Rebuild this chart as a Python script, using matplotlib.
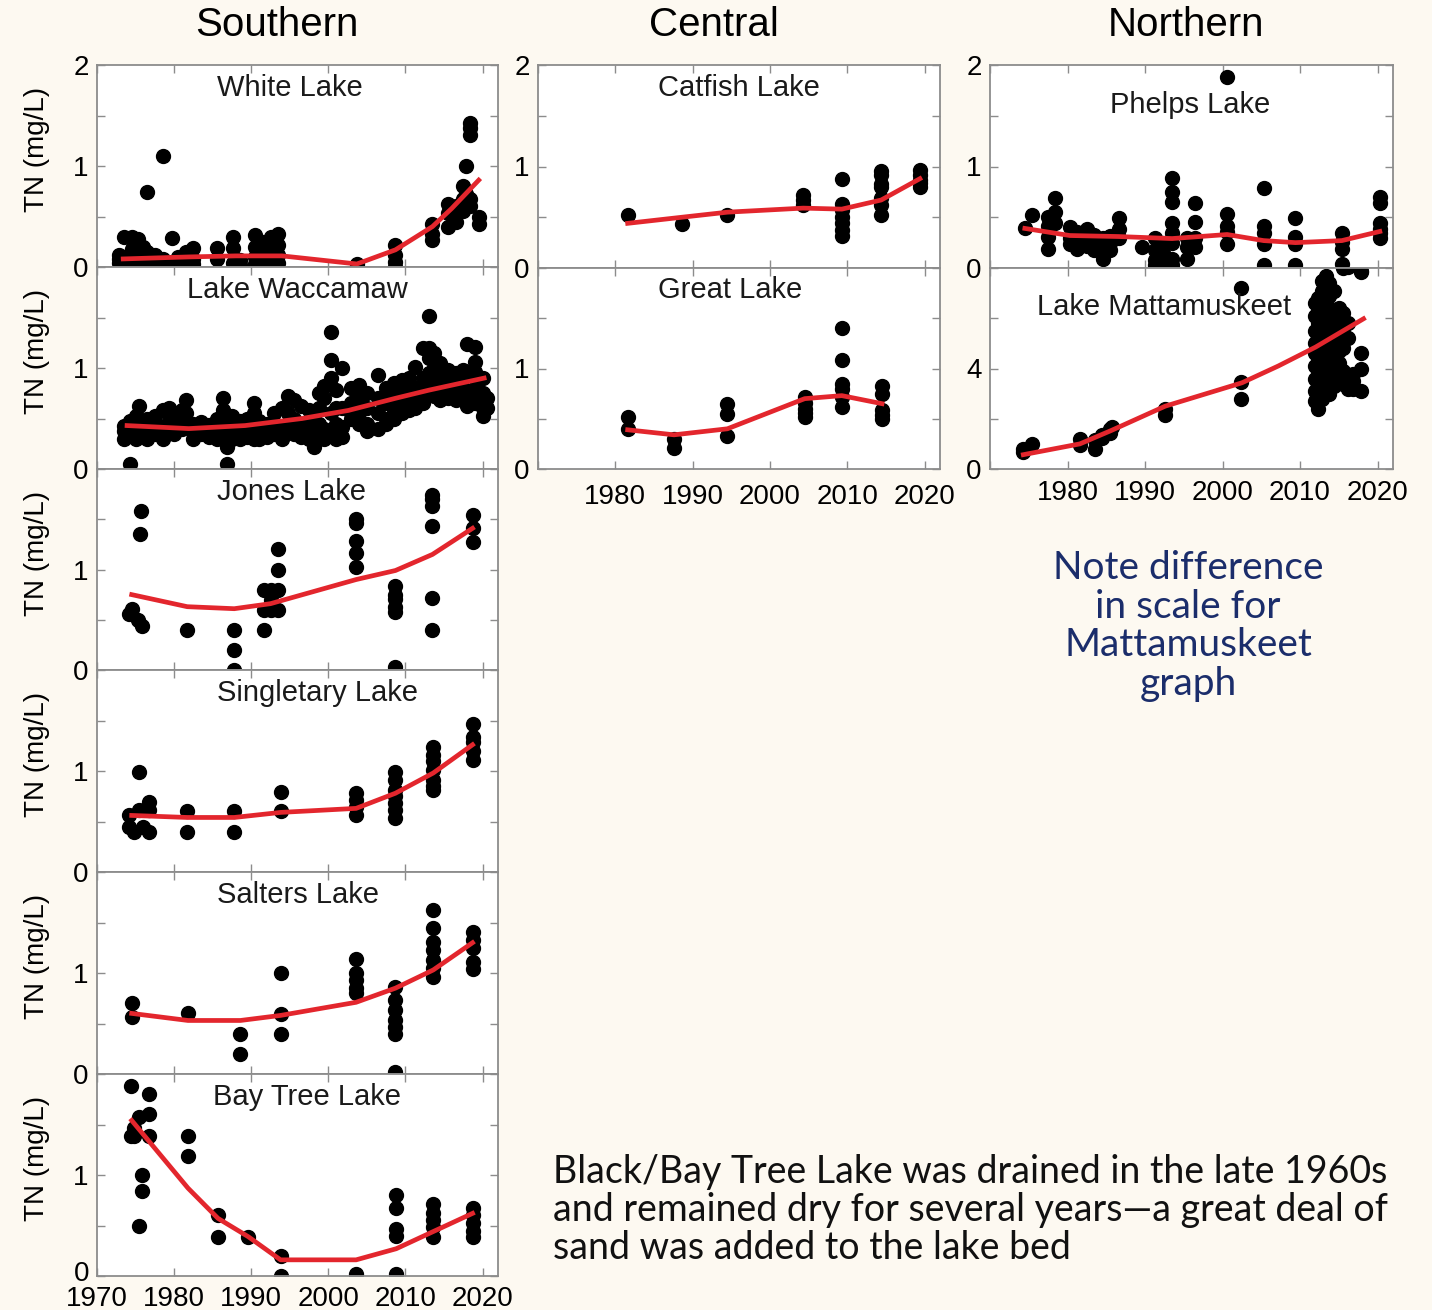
import matplotlib

matplotlib.use('Agg')
import matplotlib.pyplot as plt
from matplotlib.ticker import MultipleLocator, FuncFormatter

W, H = 1432, 1310
BG = '#fdf9f1'
RED = '#e3262d'
GRAY = '#8c8c8c'

plt.rcParams['font.family'] = ['Liberation Sans', 'DejaVu Sans']

# ---- scatter data: (year, [TN values]) ----
white_lake = [
    (1972.8, [0.04, 0.08, 0.12]), (1973.5, [0.05, 0.10, 0.30]),
    (1974.5, [0.02, 0.10, 0.18, 0.30]), (1975.3, [0.05, 0.12, 0.22, 0.28]),
    (1976.0, [0.03, 0.10, 0.20]), (1976.5, [0.74, 0.08, 0.15]),
    (1977.5, [0.05, 0.12]), (1978.6, [1.10, 0.03, 0.08]),
    (1979.7, [0.29, 0.05]), (1980.5, [0.04, 0.10]),
    (1981.5, [0.05, 0.12, 0.15]), (1982.5, [0.03, 0.08, 0.19]),
    (1985.6, [0.08, 0.19]), (1987.7, [0.04, 0.19, 0.30]),
    (1988.5, [0.02, 0.07]), (1990.5, [0.03, 0.10, 0.20, 0.32]),
    (1991.5, [0.05, 0.15, 0.25]), (1992.5, [0.02, 0.10, 0.20, 0.30]),
    (1993.5, [0.04, 0.12, 0.22, 0.33]), (2003.7, [0.03]),
    (2008.7, [0.0, 0.05, 0.12, 0.22]), (2013.5, [0.27, 0.33, 0.43]),
    (2015.5, [0.40, 0.53, 0.62]), (2016.5, [0.45, 0.55, 0.60]),
    (2017.4, [0.55, 0.67, 0.80]), (2017.8, [1.00, 0.72]),
    (2018.4, [1.43, 1.38, 1.31, 0.60, 0.67]), (2019.5, [0.43, 0.50]),
]
waccamaw = [
    (1973.5, [0.30, 0.38, 0.43]), (1974.3, [0.05, 0.35, 0.48]),
    (1975.0, [0.30, 0.40, 0.52]), (1975.5, [0.62, 0.35, 0.43]),
    (1976.5, [0.30, 0.38, 0.50]), (1977.5, [0.35, 0.45, 0.52]),
    (1978.5, [0.30, 0.42, 0.58]), (1979.3, [0.38, 0.48, 0.60]),
    (1980.0, [0.35, 0.45, 0.55]), (1981.0, [0.40, 0.52, 0.58]),
    (1981.6, [0.68, 0.55, 0.42]), (1982.5, [0.30, 0.38, 0.45]),
    (1983.5, [0.35, 0.40, 0.47]), (1984.5, [0.32, 0.44]),
    (1985.5, [0.30, 0.36, 0.50]), (1986.4, [0.70, 0.58, 0.45, 0.35]),
    (1986.8, [0.22, 0.05]), (1987.5, [0.30, 0.40, 0.52]),
    (1988.5, [0.30, 0.38, 0.48]), (1989.5, [0.32, 0.42, 0.50]),
    (1990.3, [0.65, 0.55, 0.40, 0.30]), (1991.0, [0.30, 0.40, 0.48]),
    (1992.0, [0.32, 0.38, 0.45]), (1993.0, [0.35, 0.46, 0.55]),
    (1994.0, [0.30, 0.42, 0.60]), (1994.8, [0.72, 0.55, 0.38]),
    (1995.5, [0.68, 0.50, 0.35]), (1996.5, [0.62, 0.45, 0.32]),
    (1997.5, [0.58, 0.40, 0.30]), (1998.1, [0.22, 0.38, 0.50]),
    (1998.8, [0.75, 0.60, 0.45, 0.35]), (1999.5, [0.82, 0.70, 0.40, 0.30]),
    (2000.3, [1.36, 1.08, 0.90, 0.55, 0.35]), (2001.0, [0.78, 0.60, 0.45, 0.30]),
    (2001.8, [1.00, 0.60, 0.42, 0.32]), (2003.0, [0.80, 0.65, 0.50, 0.55]),
    (2004.0, [0.83, 0.70, 0.55, 0.45]), (2005.0, [0.75, 0.60, 0.45, 0.38]),
    (2006.5, [0.93, 0.70, 0.55, 0.40]), (2007.5, [0.80, 0.65, 0.50, 0.45]),
    (2008.5, [0.85, 0.72, 0.58, 0.50]), (2009.5, [0.88, 0.75, 0.62, 0.55]),
    (2010.5, [0.90, 0.78, 0.65, 0.58]), (2011.3, [1.01, 0.80, 0.70, 0.60]),
    (2012.3, [1.20, 0.90, 0.75, 0.65]), (2013.0, [1.51, 1.20, 1.10, 0.95, 0.85]),
    (2013.7, [1.15, 1.00, 0.85, 0.72]), (2014.5, [1.05, 0.90, 0.80, 0.68]),
    (2015.5, [0.98, 0.88, 0.75, 0.70]), (2016.5, [0.95, 0.85, 0.78, 0.68]),
    (2017.5, [0.98, 0.90, 0.80, 0.72]), (2018.0, [1.24, 0.95, 0.75, 0.62]),
    (2019.0, [1.21, 1.06, 0.96, 0.80, 0.65]), (2020.0, [0.90, 0.75, 0.60, 0.52]),
    (2020.6, [0.70, 0.60]),
]
jones = [
    (1974.2, [0.56]), (1974.6, [0.61]), (1975.3, [0.50]), (1975.6, [1.35]),
    (1975.7, [1.58]), (1975.9, [0.44]), (1981.7, [0.40]),
    (1987.8, [0.40, 0.20, 0.0]), (1991.6, [0.40, 0.60, 0.80]),
    (1992.5, [0.60, 0.70, 0.80]), (1993.5, [0.60, 0.80, 1.00, 1.20]),
    (2003.6, [1.50, 1.46, 1.28, 1.16, 1.02]),
    (2008.7, [0.84, 0.75, 0.71, 0.63, 0.58, 0.03]),
    (2013.5, [1.74, 1.70, 1.63, 1.43, 0.72, 0.40]),
    (2018.7, [1.54, 1.41, 1.27]),
]
singletary = [
    (1974.2, [0.56, 0.45]), (1974.8, [0.40]), (1975.5, [0.99, 0.61]),
    (1976.0, [0.45]), (1976.8, [0.69, 0.61, 0.40]), (1981.7, [0.60, 0.40]),
    (1987.8, [0.60, 0.40]), (1993.8, [0.79, 0.60]),
    (2003.6, [0.78, 0.71, 0.64, 0.56]),
    (2008.7, [0.99, 0.91, 0.81, 0.75, 0.68, 0.61, 0.53]),
    (2013.6, [1.24, 1.16, 1.10, 1.01, 0.91, 0.85, 0.81]),
    (2018.7, [1.47, 1.34, 1.29, 1.20, 1.11]),
]
salters = [
    (1974.5, [0.70, 0.56]), (1981.8, [0.60]), (1988.6, [0.40, 0.20]),
    (1993.8, [1.00, 0.59, 0.40]), (2003.6, [1.14, 1.00, 0.93, 0.85, 0.80]),
    (2008.7, [0.86, 0.73, 0.63, 0.53, 0.47, 0.40, 0.02]),
    (2013.6, [1.62, 1.45, 1.31, 1.23, 1.13, 1.05, 0.96]),
    (2018.7, [1.41, 1.33, 1.25, 1.11, 1.04]),
]
bay_tree = [
    (1974.4, [1.88, 1.39]), (1974.8, [1.47, 1.39]), (1975.5, [1.57, 0.50]),
    (1975.9, [1.00, 0.84]), (1976.8, [1.80, 1.60, 1.39]),
    (1981.8, [1.39, 1.19]), (1985.7, [0.60, 0.39]), (1989.6, [0.39]),
    (1993.8, [0.20, 0.0]), (2003.6, [0.02]),
    (2008.8, [0.80, 0.67, 0.47, 0.40, 0.02]),
    (2013.6, [0.71, 0.62, 0.55, 0.49, 0.39]),
    (2018.7, [0.67, 0.60, 0.52, 0.45, 0.39]),
]
catfish = [
    (1981.6, [0.52]), (1988.6, [0.43]), (1994.5, [0.52]),
    (2004.3, [0.72, 0.67, 0.62]),
    (2009.3, [0.88, 0.63, 0.57, 0.50, 0.44, 0.37, 0.32]),
    (2014.4, [0.96, 0.92, 0.83, 0.80, 0.69, 0.62, 0.52]),
    (2019.4, [0.97, 0.92, 0.87, 0.84, 0.80]),
]
great = [
    (1981.6, [0.52, 0.40]), (1987.6, [0.30, 0.21]), (1994.5, [0.65, 0.55, 0.33]),
    (2004.5, [0.72, 0.66, 0.60, 0.56, 0.52]),
    (2009.3, [1.40, 1.08, 0.85, 0.80, 0.72, 0.62]),
    (2014.5, [0.83, 0.75, 0.59, 0.54, 0.50]),
]
phelps = [
    (1974.5, [0.39]), (1975.4, [0.52]), (1977.5, [0.50, 0.41, 0.31, 0.19]),
    (1978.4, [0.69, 0.55, 0.44]), (1980.3, [0.40, 0.30, 0.24]),
    (1981.2, [0.35, 0.25, 0.19]), (1982.5, [0.38, 0.30, 0.22]),
    (1983.4, [0.33, 0.25, 0.18]), (1984.6, [0.30, 0.22, 0.09]),
    (1985.5, [0.32, 0.25, 0.18]), (1986.6, [0.49, 0.38, 0.30]),
    (1989.6, [0.21]), (1991.3, [0.30, 0.18, 0.08, 0.03]),
    (1992.3, [0.25, 0.15, 0.03]),
    (1993.5, [0.89, 0.75, 0.65, 0.44, 0.34, 0.25, 0.09, 0.03]),
    (1995.4, [0.09, 0.21, 0.30]), (1996.5, [0.64, 0.45, 0.30, 0.21]),
    (2000.6, [1.88, 0.53, 0.41, 0.35, 0.24]),
    (2005.3, [0.79, 0.41, 0.34, 0.24, 0.03]),
    (2009.4, [0.49, 0.31, 0.24, 0.03]), (2015.4, [0.34, 0.26, 0.19, 0.04]),
    (2020.3, [0.70, 0.64, 0.44, 0.38, 0.34, 0.30]),
]
mattamuskeet = [
    (1974.3, [0.68, 0.78]), (1975.4, [1.00]), (1981.6, [1.20, 0.97]),
    (1983.6, [0.81, 1.15]), (1984.5, [1.25, 1.35]), (1985.5, [1.45, 1.60]),
    (1985.8, [1.67]), (1992.6, [2.40, 2.14]), (2002.4, [7.20, 3.46, 2.80]),
    (2011.9, [6.6, 6.1, 5.5, 5.0, 4.6, 4.1, 3.6, 3.1, 2.7]),
    (2012.3, [6.8, 6.3, 5.8, 5.3, 4.9, 4.4, 3.9, 3.4, 2.9, 2.4]),
    (2012.8, [7.5, 7.1, 6.5, 6.0, 5.6, 5.1, 4.7, 4.2, 3.8, 3.3, 2.8]),
    (2013.3, [7.7, 7.2, 6.7, 6.2, 5.7, 5.2, 4.8, 4.3, 3.7, 3.2]),
    (2013.8, [7.4, 6.9, 6.4, 5.9, 5.4, 4.9, 4.5, 4.0, 3.5, 3.0]),
    (2014.4, [7.1, 6.3, 5.6, 5.0, 4.4, 3.9, 3.3]),
    (2015.0, [6.4, 5.8, 5.3, 4.7, 4.2, 3.6]),
    (2015.5, [8.0, 6.2, 5.5, 4.8, 3.9, 3.4]),
    (2016.2, [8.05, 5.8, 5.2, 3.7, 3.2]), (2016.9, [3.8, 3.5, 3.2]),
    (2017.9, [7.9, 7.85, 4.6, 4.0, 3.1]),
]

# ---- smoothed trend lines (red) ----
white_fit = ([1973.4, 1982.0, 1988.0, 1994.0, 2003.7, 2008.7, 2013.5, 2016.0, 2019.5],
             [0.08, 0.10, 0.11, 0.11, 0.03, 0.17, 0.40, 0.58, 0.86])
waccamaw_fit = ([1973.9, 1981.9, 1989.2, 1996.6, 2002.6, 2008.7, 2013.0, 2020.2],
                [0.43, 0.40, 0.43, 0.50, 0.58, 0.70, 0.78, 0.90])
jones_fit = ([1974.5, 1981.7, 1987.8, 1992.5, 2003.6, 2008.7, 2013.5, 2018.7],
             [0.75, 0.63, 0.61, 0.66, 0.90, 0.99, 1.15, 1.41])
singletary_fit = ([1974.5, 1981.7, 1987.8, 1993.8, 2003.6, 2008.7, 2013.6, 2018.7],
                  [0.56, 0.54, 0.54, 0.59, 0.63, 0.78, 0.98, 1.26])
salters_fit = ([1974.5, 1981.8, 1988.6, 1993.8, 2003.6, 2008.7, 2013.6, 2018.7],
               [0.60, 0.53, 0.53, 0.58, 0.71, 0.85, 1.03, 1.30])
bay_tree_fit = ([1974.5, 1981.8, 1985.7, 1989.6, 1993.8, 2003.6, 2008.8, 2013.6, 2018.7],
                [1.54, 0.87, 0.57, 0.39, 0.16, 0.16, 0.27, 0.44, 0.62])
catfish_fit = ([1981.6, 1988.6, 1994.5, 2004.3, 2009.3, 2014.4, 2019.4],
               [0.44, 0.50, 0.55, 0.59, 0.58, 0.67, 0.88])
great_fit = ([1981.6, 1987.6, 1994.5, 2004.5, 2009.3, 2014.5],
             [0.39, 0.34, 0.40, 0.70, 0.73, 0.65])
phelps_fit = ([1974.5, 1980.3, 1986.6, 1993.5, 2000.6, 2005.3, 2009.4, 2015.4, 2020.3],
              [0.39, 0.32, 0.31, 0.29, 0.33, 0.27, 0.25, 0.27, 0.36])
mattamuskeet_fit = ([1974.3, 1981.6, 1985.7, 1992.6, 2002.5, 2007.2, 2012.0, 2018.2],
                    [0.57, 1.00, 1.54, 2.50, 3.43, 4.10, 4.85, 5.98])

column_titles = ['Southern', 'Central', 'Northern']
note_lines = ['Note difference', 'in scale for', 'Mattamuskeet', 'graph']
drain_lines = ['Black/Bay Tree Lake was drained in the late 1960s',
               'and remained dry for several years\u2014a great deal of',
               'sand was added to the lake bed']

# ---- layout (pixels) ----
COLS = [(97, 498), (538, 940), (990, 1393)]
LEFT_ROWS = [65, 267, 469, 670, 872, 1074, 1276]
SIDE_ROWS = [65, 268, 469]

# name, data, fit, column, row, ymax, title x/y (px)
panels = [
    ('White Lake', white_lake, white_fit, 0, 0, 2, 217, 88),
    ('Lake Waccamaw', waccamaw, waccamaw_fit, 0, 1, 2, 187, 290),
    ('Jones Lake', jones, jones_fit, 0, 2, 2, 217, 492),
    ('Singletary Lake', singletary, singletary_fit, 0, 3, 2, 217, 693),
    ('Salters Lake', salters, salters_fit, 0, 4, 2, 217, 895),
    ('Bay Tree Lake', bay_tree, bay_tree_fit, 0, 5, 2, 213, 1097),
    ('Catfish Lake', catfish, catfish_fit, 1, 0, 2, 658, 88),
    ('Great Lake', great, great_fit, 1, 1, 2, 658, 290),
    ('Phelps Lake', phelps, phelps_fit, 2, 0, 2, 1110, 105),
    ('Lake Mattamuskeet', mattamuskeet, mattamuskeet_fit, 2, 1, 8, 1037, 307),
]

fig = plt.figure(figsize=(W / 100, H / 100), dpi=100, facecolor=BG)


def flatten(groups):
    xs, ys = [], []
    for year, vals in groups:
        for v in vals:
            xs.append(year)
            ys.append(v)
    return xs, ys


for name, data, fit, col, row, ymax, tx, ty in panels:
    rows = LEFT_ROWS if col == 0 else SIDE_ROWS
    x0, x1 = COLS[col]
    top, bottom = rows[row], rows[row + 1]
    ax = fig.add_axes([x0 / W, 1 - bottom / H, (x1 - x0) / W, (bottom - top) / H])
    ax.set_facecolor('white')

    xs, ys = flatten(data)
    ax.plot(xs, ys, 'o', color='black', ms=10, mec='black', zorder=2)
    ax.plot(fit[0], fit[1], color=RED, lw=3.4, zorder=3)

    ax.set_xlim(1970, 2022)
    ax.set_ylim(0, ymax)
    ax.xaxis.set_major_locator(MultipleLocator(10))
    ax.yaxis.set_major_locator(MultipleLocator(ymax / 2))
    ax.yaxis.set_minor_locator(MultipleLocator(ymax / 4))

    first_row = row == 0
    last_row = row == len(rows) - 2
    corner = col == 0 and last_row
    # the bottom-left "0" is drawn by hand below so it sits clear of "1970"
    ax.yaxis.set_major_formatter(FuncFormatter(
        lambda v, p, ymax=ymax, first=first_row, corner=corner:
        '' if (v >= ymax and not first) or (corner and v == 0) else f'{v:g}'))
    ax.xaxis.set_major_formatter(FuncFormatter(
        lambda v, p, c=col: '' if (v < 1975 and c != 0) else f'{v:.0f}'))

    ax.tick_params(which='both', direction='in', top=True, right=True,
                   color=GRAY, width=1.0, length=6, labelsize=20)
    ax.tick_params(axis='y', pad=6)
    ax.tick_params(axis='x', pad=[7, 11, 8][col], labelbottom=last_row)
    for sp in ax.spines.values():
        sp.set_color(GRAY)
        sp.set_linewidth(1.3)

    fig.text(tx / W, 1 - ty / H, name, ha='left', va='center',
             fontsize=21, color='#1a1a1a')
    if col == 0:
        fig.text(37 / W, 1 - (top + 0.42 * (bottom - top)) / H, 'TN (mg/L)',
                 rotation=90, ha='center', va='center', fontsize=20)

fig.text(89 / W, 1 - 1281 / H, '0', ha='right', va='baseline', fontsize=20)

for title, xc in zip(column_titles, [277, 714, 1186]):
    fig.text(xc / W, 1 - 25 / H, title, ha='center', va='center', fontsize=29)

for i, line in enumerate(note_lines):
    fig.text(1188 / W, 1 - (568 + 38.7 * i) / H, line, ha='center', va='center',
             fontsize=28, color='#1b2d6b', family=['Lato', 'DejaVu Sans'])

for i, line in enumerate(drain_lines):
    fig.text(553 / W, 1 - (1172 + 38 * i) / H, line, ha='left', va='center',
             fontsize=27, color='#111111', family=['Lato', 'DejaVu Sans'])

fig.savefig('out.png', dpi=100, facecolor=BG)
